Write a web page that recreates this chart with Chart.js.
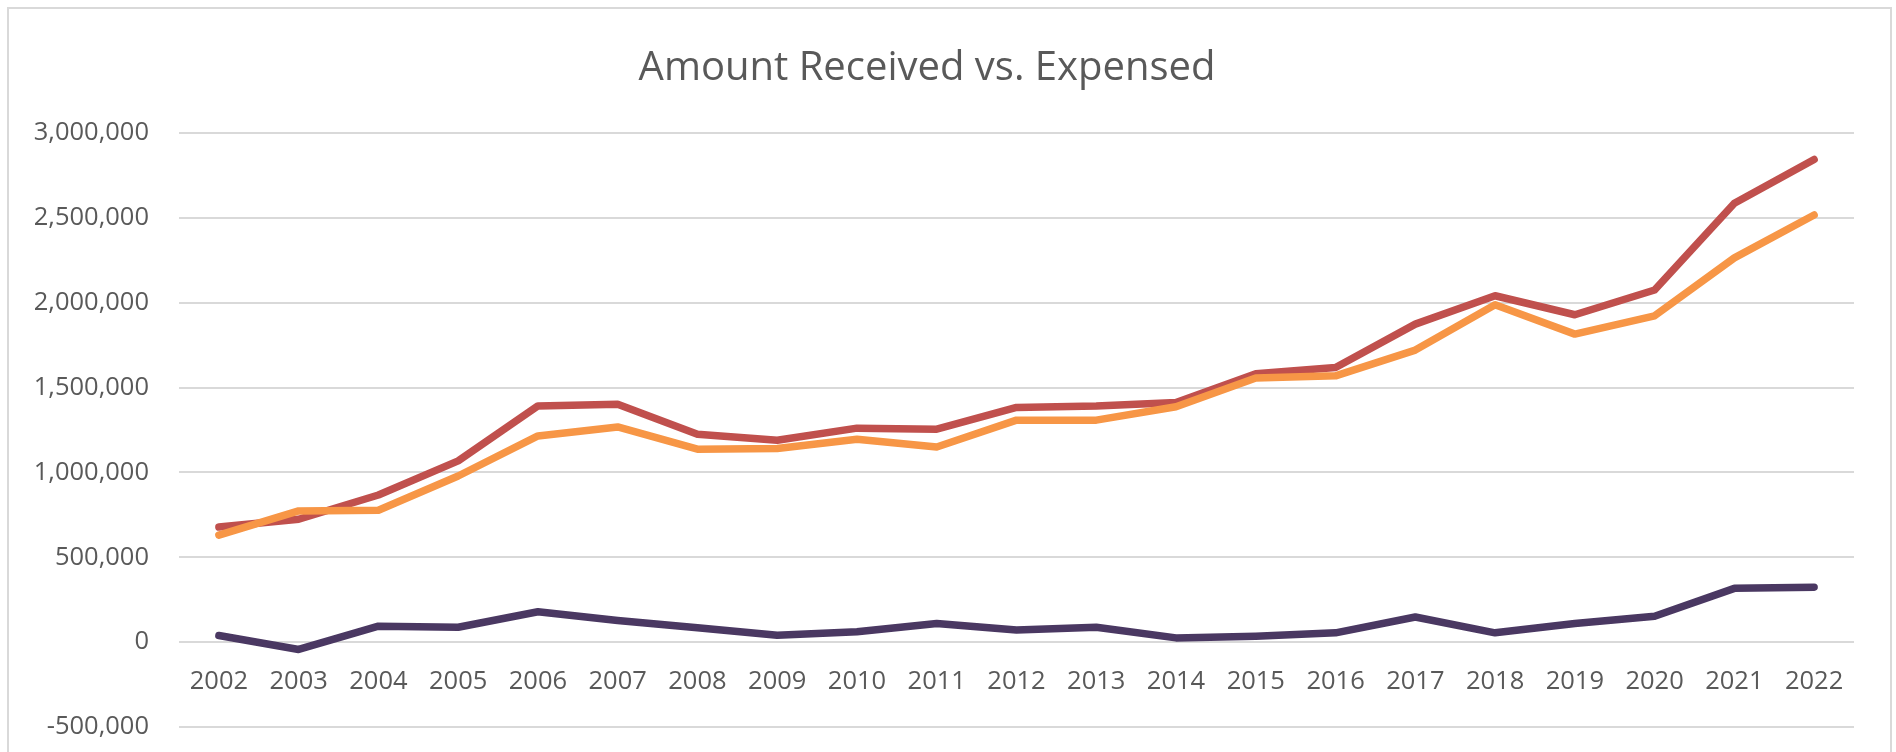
<!DOCTYPE html>
<html lang="en">
<head>
<meta charset="UTF-8">
<title>Amount Received vs. Expensed</title>
<script src="https://cdn.jsdelivr.net/npm/chart.js"></script>
<style>
    body { margin: 0; background: #fff; overflow: hidden; }
    .wrap { position: relative; width: 1896px; height: 752px; }
    .frame {
        position: absolute; left: 7px; top: 7px; width: 1881px; height: 800px;
        border: 2px solid #d9d9d9; pointer-events: none;
    }
    canvas { position: absolute; left: 0; top: 0; }
</style>
</head>
<body>
<div class="wrap">
    <canvas id="chart" width="1896" height="752"></canvas>
    <div class="frame"></div>
</div>
<script>
// values
const years = ['2002','2003','2004','2005','2006','2007','2008','2009','2010','2011','2012',
               '2013','2014','2015','2016','2017','2018','2019','2020','2021','2022'];

const received = [678000, 724000, 867000, 1068000, 1392000, 1402000, 1225000, 1190000, 1261000, 1255000, 1383000,
                  1392000, 1412000, 1582000, 1618000, 1874000, 2041000, 1929000, 2075000, 2586000, 2844000];

const expensed = [631000, 773000, 777000, 979000, 1215000, 1268000, 1137000, 1141000, 1196000, 1150000, 1308000,
                  1308000, 1387000, 1556000, 1569000, 1721000, 1988000, 1815000, 1923000, 2264000, 2517000];

const net = [39000, -43000, 94000, 88000, 179000, 128000, 85000, 41000, 61000, 110000, 71000,
             88000, 25000, 35000, 55000, 148000, 55000, 110000, 153000, 317000, 324000];

const textColor = '#595959';
const gridColor = '#d9d9d9';
const fontFamily = "'Segoe UI', 'Open Sans', sans-serif";

function lineSet(label, data, color, order) {
    return {
        label: label,
        data: data,
        borderColor: color,
        backgroundColor: color,
        borderWidth: 7.5,
        borderCapStyle: 'round',
        borderJoinStyle: 'round',
        pointRadius: 0,
        tension: 0,
        order: order
    };
}

new Chart(document.getElementById('chart'), {
    type: 'line',
    data: {
        labels: years,
        datasets: [
            lineSet('Received', received, '#c0504d', 1),
            lineSet('Expensed', expensed, '#f79646', 0),
            lineSet('Net', net, '#4a3862', 2)
        ]
    },
    options: {
        responsive: false,
        animation: false,
        devicePixelRatio: 1,
        layout: { padding: { left: 0, right: 42, top: 0, bottom: 25 } },
        plugins: {
            legend: { display: false },
            tooltip: { enabled: false },
            title: {
                display: true,
                text: 'Amount Received vs. Expensed',
                color: textColor,
                font: { family: fontFamily, size: 40, weight: 'normal' },
                padding: { top: 45, bottom: 40 }
            }
        },
        scales: {
            x: {
                type: 'category',
                offset: true,
                position: { y: 0 },
                grid: { display: false },
                border: { display: false },
                // the axis sits on the zero line, so it needs no room of its own
                afterFit: function (scale) { scale.height = 0; },
                ticks: {
                    color: textColor,
                    font: { family: fontFamily, size: 25.5 },
                    padding: 16,
                    maxRotation: 0,
                    autoSkip: false
                }
            },
            y: {
                min: -500000,
                max: 3000000,
                // invisible tick marks give the gap between labels and plot
                grid: { color: gridColor, lineWidth: 2, drawTicks: true, tickLength: 30, tickColor: 'transparent' },
                border: { display: false },
                afterFit: function (scale) { scale.width = 179; },
                ticks: {
                    stepSize: 500000,
                    color: textColor,
                    padding: 0,
                    font: { family: fontFamily, size: 25.5 },
                    callback: function (v) { return v.toLocaleString('en-US'); }
                }
            }
        }
    }
});
</script>
</body>
</html>
